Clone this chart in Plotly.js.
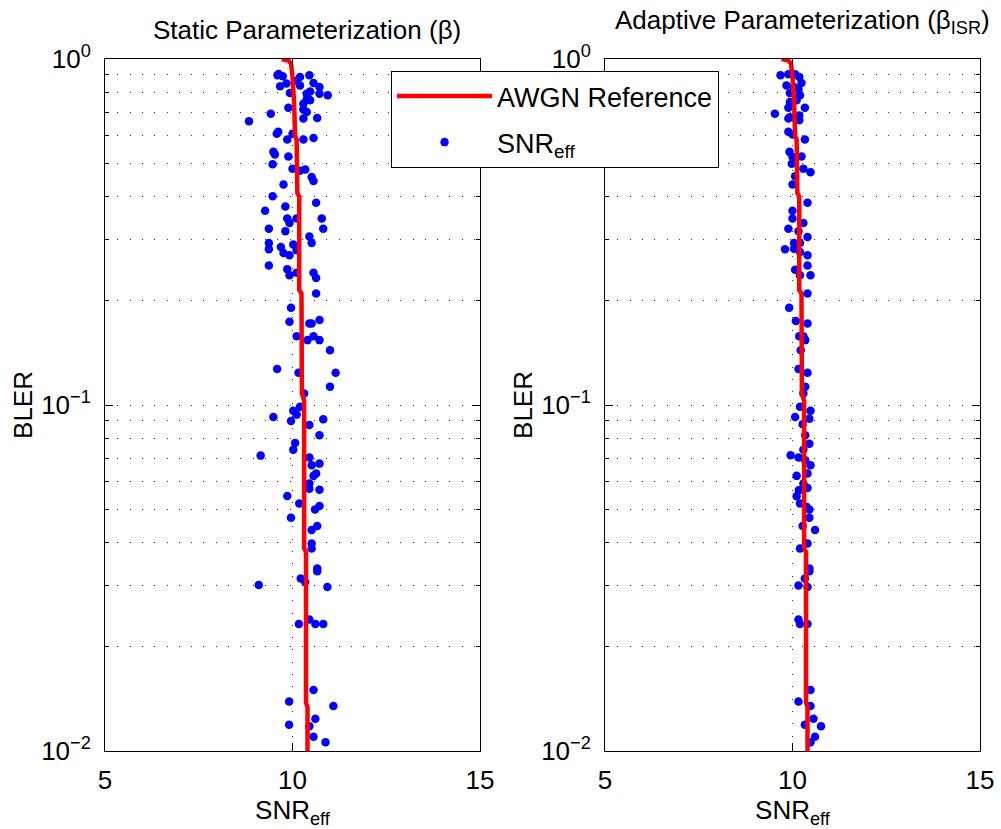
<!DOCTYPE html>
<html>
<head>
<meta charset="utf-8">
<script src="https://cdn.plot.ly/plotly-3.0.1.min.js"></script>
<style>html,body{margin:0;padding:0;background:#fff;}#chart{width:1001px;height:829px;}</style>
</head>
<body>
<div id="chart"></div>
<script>
// AWGN reference curve (shared by both panels)
const awgnSnr  = [9.71, 9.89, 9.96, 10.00, 10.04, 10.07, 10.11, 10.13, 10.18, 10.18, 10.24, 10.25, 10.31, 10.31, 10.36, 10.36, 10.40, 10.40];
const awgnBler = [1.0, 0.99, 0.97, 0.89, 0.76, 0.60, 0.585, 0.41, 0.40, 0.215, 0.210, 0.108, 0.103, 0.0385, 0.0376, 0.0138, 0.0134, 0.01];

// Static parameterization (beta) – effective SNR points
const staticSnr = [
  9.60, 9.74, 9.84, 10.20, 10.45, 10.56, 10.72, 10.94, 10.72, 9.93, 10.20, 10.38, 10.47, 10.29, 10.38, 10.29, 10.66, 9.89, 9.42, 8.84,
  9.62, 9.58, 10.00, 10.29, 10.56, 9.86, 9.49, 9.53, 9.47, 9.89, 10.00, 10.20, 10.34, 10.51, 10.56, 9.76, 9.47, 10.63, 9.27, 9.81,
  9.86, 9.92, 10.11, 10.78, 10.82, 9.37, 9.81, 10.45, 10.51, 9.37, 9.37, 9.69, 9.76, 9.92, 10.02, 10.11, 9.37, 9.86, 9.92, 10.11,
  10.56, 10.63, 9.67, 10.47, 10.38, 10.29, 9.63, 10.11,
  10.63, 9.96, 9.92, 10.45, 10.51, 10.72, 10.11, 10.40, 10.56, 10.72, 11.00, 9.59, 10.16, 11.15, 11.00, 10.31, 10.20, 10.02, 10.11, 9.49,
  9.96, 10.82, 10.45, 10.72, 10.07, 10.02, 9.15, 10.45, 10.51, 10.72, 10.63, 10.56, 10.45, 10.45, 10.72, 9.86, 10.18, 10.72, 10.60,
  9.96, 10.66, 10.51, 10.51, 10.51, 10.66, 10.66, 10.22, 10.34, 9.10, 10.93, 10.45, 10.17, 10.61, 10.82, 10.56, 9.91, 11.09, 10.61, 9.91,
  10.45, 10.56, 10.88
];
const staticBler = [
  0.897, 0.891, 0.849, 0.887, 0.897, 0.852, 0.830, 0.786, 0.794, 0.798, 0.839, 0.794, 0.760, 0.743, 0.703, 0.673, 0.675, 0.723, 0.695, 0.661,
  0.616, 0.608, 0.608, 0.585, 0.591, 0.585, 0.539, 0.530, 0.496, 0.523, 0.482, 0.475, 0.479, 0.456, 0.444, 0.434, 0.401, 0.384, 0.364, 0.375,
  0.346, 0.336, 0.346, 0.346, 0.323, 0.323, 0.318, 0.307, 0.294, 0.294, 0.282, 0.286, 0.275, 0.271, 0.291, 0.280, 0.253, 0.247, 0.237, 0.241,
  0.241, 0.233, 0.834, 0.805, 0.765, 0.715, 0.905, 0.865,
  0.210, 0.191, 0.174, 0.172, 0.172, 0.176, 0.158, 0.154, 0.158, 0.154, 0.144, 0.127, 0.124, 0.124, 0.113, 0.108, 0.0988, 0.0962, 0.0938, 0.0923,
  0.0899, 0.0909, 0.0876, 0.0818, 0.0777, 0.0743, 0.0714, 0.0705, 0.0670, 0.0677, 0.0634, 0.0624, 0.0593, 0.0573, 0.0569, 0.0546, 0.0519, 0.0511, 0.0499,
  0.0472, 0.0447, 0.0435, 0.0398, 0.0385, 0.0337, 0.0331, 0.0315, 0.0308, 0.0302, 0.0298, 0.0240, 0.0233, 0.0233, 0.0233, 0.0150, 0.0139, 0.0135, 0.0124, 0.0119,
  0.0118, 0.0110, 0.0106
];

// Adaptive parameterization (beta_ISR) – effective SNR points
const adaptiveSnr = [
  9.68, 9.89, 10.07, 10.18, 10.24, 9.84, 10.04, 10.16, 9.93, 10.20, 10.11, 9.93, 10.33, 9.89, 9.53, 10.18, 9.93, 9.89, 10.18, 9.89,
  10.00, 10.33, 9.92, 10.00, 10.24, 9.98, 10.29, 10.48, 10.07, 10.00, 10.40, 10.00, 10.00, 10.29, 9.89, 10.16, 10.40, 10.04, 10.20, 9.80,
  10.04, 10.20, 10.40, 10.40, 10.07, 10.48, 10.20,
  10.40, 9.91, 10.09, 10.40, 10.18, 10.29, 10.34, 10.22, 10.16, 10.40, 10.34, 10.29, 10.20, 10.48, 10.07, 10.45, 10.27, 10.34, 10.45, 10.29,
  9.95, 10.16, 10.34, 10.48, 10.11, 10.40, 10.29, 10.40, 10.17, 10.11, 10.20, 10.38, 10.45,
  10.45, 10.27, 10.60, 10.40, 10.20, 10.45, 10.45, 10.33, 10.16, 10.40, 10.16, 10.20, 10.40, 10.48, 10.16, 10.48, 10.56, 10.33, 10.76, 10.60,
  10.48
];
const adaptiveBler = [
  0.897, 0.903, 0.903, 0.887, 0.852, 0.839, 0.830, 0.816, 0.798, 0.786, 0.760, 0.751, 0.723, 0.723, 0.695, 0.687, 0.679, 0.673, 0.665, 0.616,
  0.605, 0.585, 0.539, 0.521, 0.523, 0.498, 0.482, 0.471, 0.458, 0.434, 0.384, 0.364, 0.346, 0.336, 0.323, 0.318, 0.306, 0.294, 0.294, 0.282,
  0.283, 0.277, 0.271, 0.253, 0.246, 0.237, 0.237,
  0.210, 0.191, 0.175, 0.172, 0.158, 0.158, 0.154, 0.144, 0.127, 0.124, 0.113, 0.108, 0.0988, 0.0962, 0.0923, 0.0912, 0.0880, 0.0818, 0.0773, 0.0743,
  0.0716, 0.0705, 0.0692, 0.0670, 0.0624, 0.0634, 0.0593, 0.0576, 0.0567, 0.0545, 0.0519, 0.0507, 0.0499,
  0.0472, 0.0447, 0.0435, 0.0398, 0.0385, 0.0337, 0.0331, 0.0315, 0.0301, 0.0298, 0.0240, 0.0233, 0.0233, 0.0150, 0.0139, 0.0135, 0.0124, 0.0119, 0.0118, 0.0110,
  0.0106
];

const xTickVals = [5, 10, 15];
const yTickVals = [0.01, 0.1, 1];
const yTickText = ['10<sup>\u22122</sup>', '10<sup>\u22121</sup>', '10<sup>0</sup>'];
const panelTitles = ['Static Parameterization (\u03B2)', 'Adaptive Parameterization (\u03B2<sub>ISR</sub>)'];
const seriesNames = ['AWGN Reference', 'SNR<sub>eff</sub>'];

const FONT = 'Liberation Sans, Arial, Helvetica, sans-serif';
const FS = 26;
const gridDash = '1px,11.3px';
const gridCol = '#333';

function xAxis(domain, anchor) {
  return {
    domain: domain, anchor: anchor, range: [5, 15], tickmode: 'array', tickvals: xTickVals,
    ticks: 'inside', ticklen: 8, tickcolor: '#000', showline: true, linecolor: '#000', linewidth: 1, mirror: 'ticks',
    showgrid: true, gridcolor: gridCol, griddash: gridDash, gridwidth: 1, zeroline: false,
    tickfont: {size: FS, color: '#000'}, ticklabelstandoff: 6,
    title: {text: 'SNR<sub>eff</sub>', font: {size: FS, color: '#000'}, standoff: 6}
  };
}
function yAxis(anchor) {
  return {
    anchor: anchor, type: 'log', range: [-2, 0], tickmode: 'array', tickvals: yTickVals, ticktext: yTickText,
    ticks: 'inside', ticklen: 8, tickcolor: '#000', showline: true, linecolor: '#000', linewidth: 1, mirror: 'ticks',
    showgrid: true, gridcolor: gridCol, griddash: gridDash, gridwidth: 1, zeroline: false,
    minor: {dtick: 'D1', ticks: 'inside', ticklen: 4, tickcolor: '#000', showgrid: true, gridcolor: gridCol, griddash: gridDash, gridwidth: 1},
    tickfont: {size: FS, color: '#000'}, ticklabelstandoff: 8,
    title: {text: 'BLER', font: {size: FS, color: '#000'}, standoff: 1}
  };
}

const traces = [
  {x: staticSnr, y: staticBler, xaxis: 'x', yaxis: 'y', type: 'scatter', mode: 'markers', name: seriesNames[1],
   marker: {color: '#0000ff', size: 8.5}, legendgroup: 'b', legendrank: 2},
  {x: awgnSnr, y: awgnBler, xaxis: 'x', yaxis: 'y', type: 'scatter', mode: 'lines', name: seriesNames[0],
   line: {color: '#ff0000', width: 4.5}, legendgroup: 'a', legendrank: 1},
  {x: adaptiveSnr, y: adaptiveBler, xaxis: 'x2', yaxis: 'y2', type: 'scatter', mode: 'markers', name: seriesNames[1],
   marker: {color: '#0000ff', size: 8.5}, showlegend: false},
  {x: awgnSnr, y: awgnBler, xaxis: 'x2', yaxis: 'y2', type: 'scatter', mode: 'lines', name: seriesNames[0],
   line: {color: '#ff0000', width: 4.5}, showlegend: false}
];

const layout = {
  width: 1001, height: 829,
  margin: {l: 105, r: 21, t: 59, b: 78},
  paper_bgcolor: '#fff', plot_bgcolor: '#fff',
  font: {family: FONT, size: FS, color: '#000'},
  showlegend: true,
  xaxis: xAxis([0, 375/875], 'y'),
  yaxis: yAxis('x'),
  xaxis2: xAxis([500/875, 1], 'y2'),
  yaxis2: yAxis('x2'),
  legend: {x: 0.3269, y: 0.9827, xanchor: 'left', yanchor: 'top', bgcolor: '#fff', bordercolor: '#000', borderwidth: 1,
           font: {size: 27, color: '#000'}, itemwidth: 95, tracegroupgap: 8, traceorder: 'grouped'},
  annotations: [
    {text: panelTitles[0], xref: 'paper', yref: 'paper', x: 0.2309, y: 1.0419, xanchor: 'center', yanchor: 'middle', showarrow: false, font: {size: FS, color: '#000'}},
    {text: panelTitles[1], xref: 'paper', yref: 'paper', x: 0.7977, y: 1.0549, xanchor: 'center', yanchor: 'middle', showarrow: false, font: {size: FS, color: '#000'}}
  ]
};

Plotly.newPlot('chart', traces, layout, {displayModeBar: false, staticPlot: true});
</script>
</body>
</html>
